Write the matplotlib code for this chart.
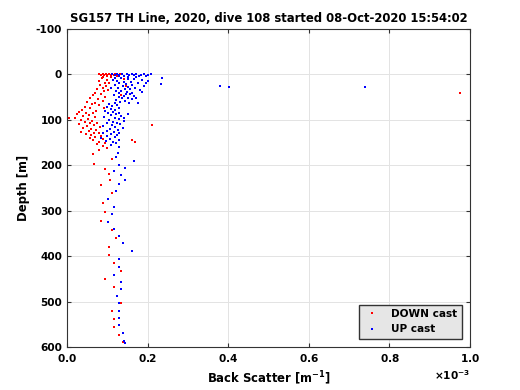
import matplotlib
matplotlib.use("Agg")
import matplotlib.pyplot as plt
import numpy as np

plt.rcParams['font.family'] = ['DejaVu Sans']
plt.rcParams['font.weight'] = 'bold'
plt.rcParams['axes.unicode_minus'] = False

title = "SG157 TH Line, 2020, dive 108 started 08-Oct-2020 15:54:02"

# back scatter in units of 1e-3 m^-1, depth in m
down_bs = [0.080, 0.084, 0.088, 0.092, 0.096, 0.100, 0.104, 0.108, 0.112, 0.116,
           0.120, 0.124, 0.128, 0.132, 0.098, 0.110, 0.090,
           0.086, 0.100, 0.078, 0.094, 0.105, 0.082, 0.097, 0.088, 0.075, 0.101,
           0.091, 0.070, 0.140, 0.145, 0.135,
           0.083, 0.064, 0.094, 0.058, 0.077, 0.088, 0.050, 0.070, 0.062, 0.080,
           0.045, 0.092, 0.056, 0.038, 0.073,
           0.030, 0.048, 0.064, 0.025, 0.055, 0.040, 0.070, 0.020, 0.052, 0.035,
           0.062, 0.045, 0.075, 0.058, 0.030, 0.068, 0.050, 0.082, 0.040, 0.060,
           0.072, 0.054, 0.035, 0.066, 0.078, 0.046, 0.060, 0.085, 0.070, 0.056,
           0.090, 0.064, 0.080, 0.095, 0.074, 0.088, 0.100, 0.078, 0.005,
           0.211, 0.975, 0.160, 0.169,
           0.065, 0.111, 0.067, 0.095, 0.105, 0.107, 0.084, 0.111, 0.089, 0.094,
           0.084, 0.111, 0.122, 0.105, 0.105, 0.117, 0.133, 0.094, 0.117, 0.123,
           0.133, 0.112, 0.117, 0.117, 0.128, 0.138]
down_depth = [0, 1, 0, 2, 0, 1, 0, 2, 0, 1,
              0, 3, 1, 0, 4, 5, 6,
              9, 12, 15, 18, 20, 23, 26, 29, 32, 34,
              37, 40, 10, 25, 45,
              43, 46, 49, 52, 55, 58, 61, 63, 66, 68,
              71, 73, 75, 78, 80,
              82, 84, 86, 88, 90, 92, 94, 96, 98, 100,
              102, 104, 106, 108, 110, 112, 114, 116, 118, 120,
              122, 124, 126, 128, 130, 132, 134, 136, 138, 140,
              142, 145, 148, 150, 153, 157, 162, 166, 97,
              111, 42, 144, 148,
              175, 186, 197, 208, 219, 232, 244, 260, 282, 303,
              323, 343, 361, 379, 398, 416, 432, 450, 467, 487,
              502, 520, 538, 555, 574, 589]

up_bs = [0.112, 0.118, 0.124, 0.130, 0.136, 0.142, 0.148, 0.154, 0.160, 0.166,
         0.172, 0.178, 0.184, 0.190, 0.196, 0.202, 0.208, 0.128, 0.150, 0.170,
         0.120, 0.135, 0.150, 0.165, 0.185, 0.200, 0.125, 0.140, 0.158, 0.175,
         0.130, 0.145, 0.160, 0.118, 0.190, 0.138, 0.152, 0.168, 0.127, 0.143,
         0.157, 0.180, 0.122, 0.135, 0.148, 0.162, 0.130, 0.145, 0.155, 0.117,
         0.140, 0.165, 0.128, 0.150, 0.136, 0.160, 0.122, 0.143, 0.132, 0.185,
         0.195, 0.115, 0.110, 0.170, 0.153, 0.175,
         0.118, 0.105, 0.125, 0.112, 0.098, 0.130, 0.108, 0.120, 0.095, 0.115,
         0.128, 0.102, 0.122, 0.110, 0.135, 0.092, 0.118, 0.128, 0.105, 0.140,
         0.115, 0.125, 0.100, 0.132, 0.112, 0.088, 0.120, 0.138, 0.106, 0.126,
         0.098, 0.116, 0.130, 0.090, 0.110, 0.124, 0.100, 0.118, 0.084, 0.106,
         0.128, 0.096, 0.114, 0.122, 0.108, 0.130, 0.142, 0.150,
         0.235, 0.232, 0.380, 0.403, 0.740,
         0.127, 0.122, 0.166, 0.128, 0.144, 0.117, 0.133, 0.144, 0.128, 0.122,
         0.101, 0.117, 0.111, 0.101, 0.117, 0.128, 0.138, 0.160, 0.128, 0.128,
         0.117, 0.133, 0.133, 0.123, 0.128, 0.128, 0.128, 0.128, 0.138, 0.140,
         0.144]
up_depth = [0, 2, 0, 1, 0, 3, 0, 1, 0, 2,
            0, 4, 1, 0, 3, 1, 0, 4, 5, 6,
            8, 9, 10, 11, 12, 14, 15, 16, 17, 19,
            20, 22, 23, 24, 25, 26, 28, 29, 30, 32,
            33, 34, 36, 37, 38, 40, 41, 43, 44, 45,
            47, 48, 50, 51, 53, 55, 56, 58, 60, 38,
            20, 12, 30, 52, 63, 62,
            64, 66, 68, 70, 72, 74, 76, 78, 80, 82,
            84, 86, 88, 90, 92, 94, 96, 98, 100, 102,
            104, 106, 108, 110, 112, 114, 116, 118, 120, 122,
            124, 126, 128, 130, 132, 134, 136, 138, 140, 142,
            144, 146, 148, 152, 156, 160, 96, 88,
            9, 21, 25, 27, 28,
            174, 182, 191, 199, 205, 213, 222, 232, 241, 257,
            274, 292, 308, 325, 340, 355, 372, 389, 406, 423,
            441, 456, 472, 487, 503, 520, 536, 552, 569, 586,
            592]

fig = plt.figure(figsize=(5.2, 3.9), dpi=100)
ax = fig.add_axes([0.129, 0.110, 0.775, 0.816])

ax.plot(np.array(down_bs) * 1e-3, down_depth, 's', color='red', markersize=1.5,
        markeredgewidth=0, label='DOWN cast')
ax.plot(np.array(up_bs) * 1e-3, up_depth, 's', color='blue', markersize=1.5,
        markeredgewidth=0, label='UP cast')

ax.set_xlim(0, 1e-3)
ax.set_ylim(600, -100)
ax.set_xticks(np.arange(0, 1.01e-3, 0.2e-3))
ax.set_yticks(np.arange(-100, 601, 100))
ax.ticklabel_format(axis='x', style='sci', scilimits=(0, 0), useMathText=True)
ax.grid(True, color='#e3e3e3', linewidth=0.7)
ax.set_axisbelow(True)
ax.tick_params(direction='in', top=True, right=True, labelsize=7.6, length=3,
               color='#333333')
for lbl in ax.get_xticklabels() + ax.get_yticklabels():
    lbl.set_fontweight('bold')
ax.xaxis.get_offset_text().set_fontsize(7.6)
ax.xaxis.get_offset_text().set_fontweight('bold')
for s in ax.spines.values():
    s.set_color('#333333')
    s.set_linewidth(0.8)

ax.set_xlabel('Back Scatter [m$^{\\mathbf{-1}}$]', fontsize=8.4, fontweight='bold')
ax.set_ylabel('Depth [m]', fontsize=8.4, fontweight='bold')
ax.set_title(title, fontsize=8.4, fontweight='bold', pad=5)

leg = ax.legend(loc='lower right', fontsize=7.6, fancybox=False, framealpha=1,
                facecolor='#e6e6e6', edgecolor='#333333', markerscale=1,
                borderaxespad=0.8, handletextpad=0.9, handlelength=1.8)
for t in leg.get_texts():
    t.set_fontweight('bold')

fig.savefig('out.png', dpi=100)
